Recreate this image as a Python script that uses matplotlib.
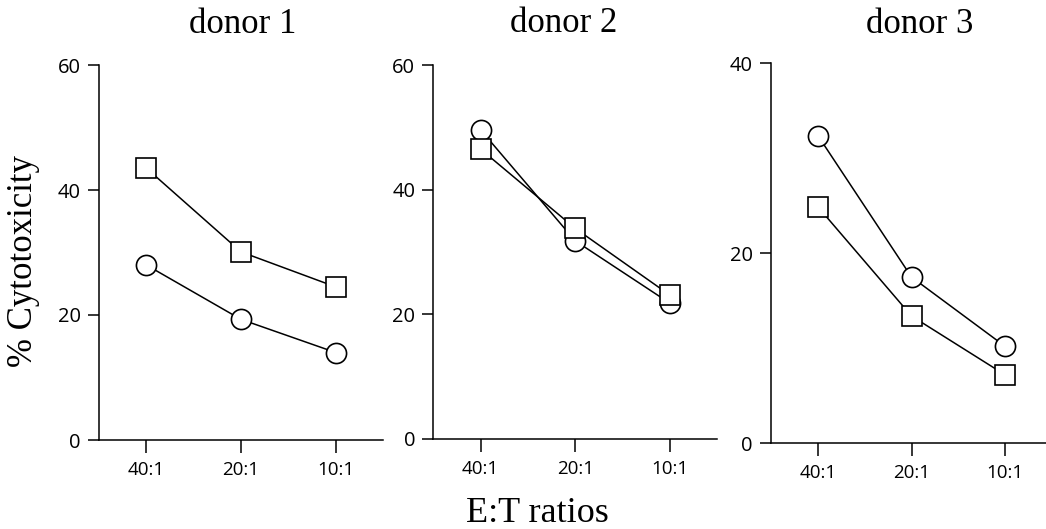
import matplotlib
matplotlib.use("Agg")
import matplotlib.pyplot as plt

# ---- data ----
ratios = ["40:1", "20:1", "10:1"]
donors = ["donor 1", "donor 2", "donor 3"]
circle_vals = [
    [28.0, 19.3, 14.0],
    [49.6, 31.8, 21.8],
    [32.4, 17.5, 10.2],
]
square_vals = [
    [43.5, 30.1, 24.5],
    [46.5, 33.8, 23.1],
    [24.9, 13.4, 7.2],
]
y_max = [60, 60, 40]
y_ticks = [[0, 20, 40, 60], [0, 20, 40, 60], [0, 20, 40]]
ylabel = "% Cytotoxicity"
xlabel = "E:T ratios"

W, H = 1046, 529
fig = plt.figure(figsize=(W / 100, H / 100), dpi=100)

# axes rectangles in pixels: left, right, top(y of ymax), bottom(y of 0)
rects = [(99, 383, 65, 440), (433.3, 717, 65, 439), (771, 1052, 63.3, 443.3)]
title_pos = [(243, 33), (564, 32), (920, 33)]

serif = ["Liberation Serif", "DejaVu Serif"]
sans = ["Open Sans", "DejaVu Sans"]

x = list(range(len(ratios)))
for i, (l, r, t, b) in enumerate(rects):
    ax = fig.add_axes([l / W, (H - b) / H, (r - l) / W, (b - t) / H])
    ax.plot(x, circle_vals[i], "-", color="black", lw=1.1, zorder=2)
    ax.plot(x, square_vals[i], "-", color="black", lw=1.1, zorder=2)
    ax.plot(x, circle_vals[i], "o", ls="none", ms=14.5, mfc="white", mec="black",
            mew=1.2, zorder=3, clip_on=False)
    ax.plot(x, square_vals[i], "s", ls="none", ms=14.5, mfc="white", mec="black",
            mew=1.2, zorder=4, clip_on=False)
    ax.set_xlim(-0.5, 2.5)
    ax.set_ylim(0, y_max[i])
    ax.set_xticks(x)
    ax.set_xticklabels(ratios, fontfamily=sans, fontsize=13.5)
    ax.set_yticks(y_ticks[i])
    ax.set_yticklabels([str(v) for v in y_ticks[i]], fontfamily=sans, fontsize=14.5)
    for s in ["top", "right"]:
        ax.spines[s].set_visible(False)
    for s in ["left", "bottom"]:
        ax.spines[s].set_linewidth(1.1)
    ax.tick_params(axis="y", direction="out", length=8, width=1.1, pad=5)
    ax.tick_params(axis="x", direction="out", length=9, width=1.1, pad=6)
    ax.patch.set_alpha(0)
    tx, ty = title_pos[i]
    fig.text(tx / W, (H - ty) / H, donors[i], ha="center", va="baseline",
             fontfamily=serif, fontsize=25)

fig.text(24 / W, (H - 261) / H, ylabel, rotation=90, ha="center", va="center",
         fontfamily=serif, fontsize=25)
fig.text(537.5 / W, (H - 521.7) / H, xlabel, ha="center", va="baseline",
         fontfamily=serif, fontsize=26)

fig.savefig("out.png", dpi=100)
